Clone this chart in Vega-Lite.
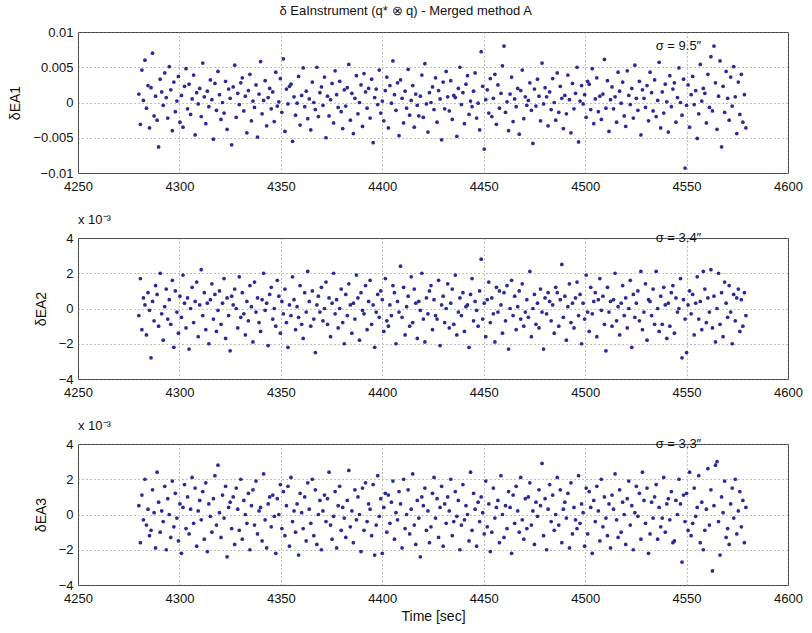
{
"$schema": "https://vega.github.io/schema/vega-lite/v6.json",
"padding": {"left": 8, "top": 4, "right": 6, "bottom": 4},
"background": "white",
"title": {"text": "δ EaInstrument (q* ⊗ q) - Merged method A", "anchor": "middle", "fontSize": 13, "fontWeight": "normal", "font": "Liberation Sans", "color": "#111", "offset": 8},
"bounds": "flush",
"spacing": 65,
"config": {
 "font": "Liberation Sans",
 "view": {"stroke": "#444", "strokeWidth": 1},
 "axis": {"grid": true, "gridDash": [1, 3], "gridColor": "#777", "gridOpacity": 0.9, "domain": false, "ticks": false, "labelFont": "Liberation Sans", "labelFontSize": 13, "labelColor": "#111", "titleFont": "Liberation Sans", "titleFontSize": 14, "titleFontWeight": "normal", "titleColor": "#111", "labelPadding": 5, "labelOverlap": false, "labelFlush": false, "tickCount": 20},
 "axisX": {"labelPadding": 7, "format": "d"}
},
"data": {"values": [
{"t":4280,"a":1.2,"b":-0.4,"c":0.5},{"t":4280.75,"a":-3.1,"b":1.7,"c":-1.6},{"t":4281.5,"a":4.6,"b":-1.2,"c":1.1},{"t":4282.25,"a":0.3,"b":0.6,"c":-0.3},
{"t":4283,"a":6.0,"b":0.2,"c":2.0},{"t":4283.75,"a":-0.8,"b":-1.5,"c":-0.6},{"t":4284.5,"a":2.4,"b":0.9,"c":0.3},{"t":4285.25,"a":-3.6,"b":-0.1,"c":-1.2},
{"t":4286,"a":2.1,"b":-2.8,"c":-0.9},{"t":4286.75,"a":7.0,"b":0.4,"c":1.4},{"t":4287.5,"a":-1.9,"b":-0.7,"c":0.1},{"t":4288.25,"a":0.9,"b":1.3,"c":-1.9},
{"t":4289,"a":-2.5,"b":0.8,"c":2.4},{"t":4289.75,"a":-6.3,"b":-1.0,"c":0.7},{"t":4290.5,"a":3.3,"b":2.0,"c":-1.0},{"t":4291.25,"a":1.5,"b":-0.3,"c":0.2},
{"t":4292,"a":-0.4,"b":-1.8,"c":-0.4},{"t":4292.75,"a":4.2,"b":0.1,"c":1.6},{"t":4293.5,"a":0.7,"b":1.1,"c":-2.0},{"t":4294.25,"a":-2.2,"b":-0.6,"c":0.9},
{"t":4295,"a":5.1,"b":0.5,"c":0.0},{"t":4295.75,"a":1.8,"b":-0.9,"c":-1.3},{"t":4296.5,"a":-4.0,"b":1.6,"c":1.9},{"t":4297.25,"a":2.9,"b":-2.2,"c":-0.7},
{"t":4298,"a":-1.3,"b":1.0,"c":1.2},{"t":4298.75,"a":0.2,"b":-0.2,"c":-0.2},{"t":4299.5,"a":3.7,"b":-1.4,"c":-1.5},{"t":4300.25,"a":-2.8,"b":0.7,"c":0.6},
{"t":4301,"a":1.0,"b":-0.5,"c":-2.2},{"t":4301.75,"a":-3.5,"b":1.9,"c":0.4},{"t":4302.5,"a":2.3,"b":0.3,"c":1.7},{"t":4303.25,"a":4.8,"b":-1.1,"c":-0.8},
{"t":4304,"a":-0.9,"b":0.6,"c":1.0},{"t":4304.75,"a":2.6,"b":-2.3,"c":-1.1},{"t":4305.5,"a":-1.7,"b":0.0,"c":0.3},{"t":4306.25,"a":0.5,"b":1.2,"c":2.1},
{"t":4307,"a":3.9,"b":-0.8,"c":-0.5},{"t":4307.75,"a":-4.6,"b":0.4,"c":1.5},{"t":4308.5,"a":1.4,"b":1.5,"c":-1.8},{"t":4309.25,"a":-0.2,"b":-1.6,"c":0.2},
{"t":4310,"a":2.0,"b":0.2,"c":0.8},{"t":4310.75,"a":-2.0,"b":2.2,"c":-0.3},{"t":4311.5,"a":5.6,"b":-0.4,"c":1.3},{"t":4312.25,"a":0.8,"b":0.9,"c":-1.4},
{"t":4313,"a":-3.0,"b":-1.2,"c":1.8},{"t":4313.75,"a":1.6,"b":0.3,"c":-2.1},{"t":4314.5,"a":-0.6,"b":-2.0,"c":0.6},{"t":4315.25,"a":3.2,"b":0.5,"c":-0.1},
{"t":4316,"a":0.4,"b":1.4,"c":-1.0},{"t":4316.75,"a":-5.2,"b":-0.6,"c":0.9},{"t":4317.5,"a":2.7,"b":0.8,"c":2.2},{"t":4318.25,"a":-1.1,"b":-1.3,"c":-0.6},
{"t":4319,"a":4.4,"b":-0.1,"c":2.8},{"t":4319.75,"a":1.1,"b":1.0,"c":0.1},{"t":4320.5,"a":-2.4,"b":-0.9,"c":-1.3},{"t":4321.25,"a":0.0,"b":0.3,"c":1.1},
{"t":4322,"a":-1.5,"b":1.7,"c":-0.2},{"t":4322.75,"a":3.0,"b":-1.7,"c":1.6},{"t":4323.5,"a":-3.8,"b":0.6,"c":-2.4},{"t":4324.25,"a":1.9,"b":-0.4,"c":0.4},
{"t":4325,"a":0.6,"b":-2.4,"c":0.7},{"t":4325.75,"a":-6.0,"b":0.7,"c":-0.8},{"t":4326.5,"a":2.2,"b":0.2,"c":1.0},{"t":4327.25,"a":5.3,"b":1.1,"c":-1.7},
{"t":4328,"a":-2.1,"b":0.0,"c":1.5},{"t":4328.75,"a":1.3,"b":-1.1,"c":0.3},{"t":4329.5,"a":-0.3,"b":1.8,"c":-0.9},{"t":4330.25,"a":2.8,"b":-0.5,"c":2.0},
{"t":4331,"a":3.5,"b":0.9,"c":-1.4},{"t":4331.75,"a":-1.2,"b":-0.3,"c":0.8},{"t":4332.5,"a":0.9,"b":-1.5,"c":0.0},{"t":4333.25,"a":-4.3,"b":0.4,"c":-0.5},
{"t":4334,"a":1.7,"b":-0.7,"c":1.2},{"t":4334.75,"a":4.0,"b":1.3,"c":-2.0},{"t":4335.5,"a":-2.6,"b":0.1,"c":0.5},{"t":4336.25,"a":0.2,"b":-1.9,"c":1.4},
{"t":4337,"a":-0.7,"b":1.5,"c":-0.6},{"t":4337.75,"a":2.5,"b":-0.2,"c":1.9},{"t":4338.5,"a":-4.9,"b":0.6,"c":-1.1},{"t":4339.25,"a":1.2,"b":-0.8,"c":0.2},
{"t":4340,"a":5.8,"b":-1.3,"c":0.4},{"t":4340.75,"a":-1.6,"b":0.5,"c":-1.5},{"t":4341.5,"a":0.3,"b":2.0,"c":2.3},{"t":4342.25,"a":3.1,"b":-0.1,"c":-0.3},
{"t":4343,"a":-3.3,"b":0.3,"c":-1.9},{"t":4343.75,"a":0.7,"b":-2.1,"c":0.6},{"t":4344.5,"a":2.0,"b":0.8,"c":1.0},{"t":4345.25,"a":-0.9,"b":1.2,"c":-0.7},
{"t":4346,"a":1.5,"b":-0.6,"c":1.1},{"t":4346.75,"a":-2.7,"b":0.0,"c":-0.1},{"t":4347.5,"a":4.3,"b":-1.0,"c":-2.2},{"t":4348.25,"a":-0.5,"b":1.6,"c":0.9},
{"t":4349,"a":0.1,"b":0.7,"c":0.0},{"t":4349.75,"a":3.4,"b":-1.4,"c":1.7},{"t":4350.5,"a":-1.4,"b":0.4,"c":-0.8},{"t":4351.25,"a":6.2,"b":-0.3,"c":1.3},
{"t":4352,"a":-4.1,"b":1.1,"c":-1.2},{"t":4352.75,"a":1.9,"b":-0.8,"c":0.5},{"t":4353.5,"a":-0.2,"b":-2.2,"c":1.6},{"t":4354.25,"a":2.3,"b":0.2,"c":-1.8},
{"t":4355,"a":2.6,"b":-0.4,"c":2.1},{"t":4355.75,"a":-5.5,"b":1.8,"c":-0.4},{"t":4356.5,"a":0.8,"b":0.5,"c":0.2},{"t":4357.25,"a":-1.8,"b":-1.2,"c":-1.0},
{"t":4358,"a":-0.1,"b":0.1,"c":0.6},{"t":4358.75,"a":3.7,"b":-0.5,"c":-2.3},{"t":4359.5,"a":-3.2,"b":1.3,"c":1.2},{"t":4360.25,"a":1.0,"b":-0.9,"c":0.1},
{"t":4361,"a":4.9,"b":-1.7,"c":-0.8},{"t":4361.75,"a":-0.6,"b":0.9,"c":1.0},{"t":4362.5,"a":1.6,"b":-0.2,"c":-1.5},{"t":4363.25,"a":-2.3,"b":2.1,"c":1.8},
{"t":4364,"a":0.5,"b":0.4,"c":0.3},{"t":4364.75,"a":-3.9,"b":-1.0,"c":-0.5},{"t":4365.5,"a":2.9,"b":1.0,"c":2.0},{"t":4366.25,"a":0.0,"b":-0.6,"c":-1.2},
{"t":4367,"a":-1.0,"b":-2.5,"c":1.4},{"t":4367.75,"a":5.0,"b":0.2,"c":-1.7},{"t":4368.5,"a":-2.0,"b":0.7,"c":0.0},{"t":4369.25,"a":1.4,"b":-0.2,"c":0.8},
{"t":4370,"a":2.2,"b":1.2,"c":-2.0},{"t":4370.75,"a":-0.4,"b":-0.7,"c":0.2},{"t":4371.5,"a":3.6,"b":0.0,"c":1.1},{"t":4372.25,"a":-5.0,"b":1.5,"c":-0.4},
{"t":4373,"a":0.9,"b":-0.9,"c":0.9},{"t":4373.75,"a":-1.9,"b":0.6,"c":2.4},{"t":4374.5,"a":0.4,"b":-1.6,"c":-0.6},{"t":4375.25,"a":2.7,"b":0.3,"c":-1.4},
{"t":4376,"a":-2.9,"b":2.0,"c":-0.1},{"t":4376.75,"a":4.5,"b":-0.3,"c":1.3},{"t":4377.5,"a":1.1,"b":0.5,"c":-1.9},{"t":4378.25,"a":-0.7,"b":-1.1,"c":0.5},
{"t":4379,"a":3.0,"b":0.0,"c":1.6},{"t":4379.75,"a":-1.3,"b":1.1,"c":-0.9},{"t":4380.5,"a":-3.7,"b":-0.8,"c":0.4},{"t":4381.25,"a":1.8,"b":-2.0,"c":-0.2},
{"t":4382,"a":-0.5,"b":0.8,"c":-1.3},{"t":4382.75,"a":2.1,"b":-0.4,"c":0.8},{"t":4383.5,"a":5.4,"b":1.4,"c":2.5},{"t":4384.25,"a":-2.5,"b":0.2,"c":-0.7},
{"t":4385,"a":1.3,"b":-1.4,"c":0.2},{"t":4385.75,"a":-4.4,"b":0.3,"c":-1.6},{"t":4386.5,"a":0.6,"b":-0.6,"c":1.4},{"t":4387.25,"a":3.8,"b":1.9,"c":-0.3},
{"t":4388,"a":-1.6,"b":0.6,"c":1.0},{"t":4388.75,"a":0.0,"b":-1.8,"c":0.0},{"t":4389.5,"a":2.5,"b":0.9,"c":-2.1},{"t":4390.25,"a":-3.4,"b":-0.1,"c":1.5},
{"t":4391,"a":4.1,"b":-0.3,"c":-0.9},{"t":4391.75,"a":1.5,"b":1.3,"c":1.8},{"t":4392.5,"a":-0.8,"b":-1.2,"c":-0.4},{"t":4393.25,"a":2.0,"b":0.4,"c":0.6},
{"t":4394,"a":-2.2,"b":1.6,"c":0.3},{"t":4394.75,"a":3.3,"b":-0.9,"c":-1.2},{"t":4395.5,"a":-5.7,"b":0.2,"c":1.7},{"t":4396.25,"a":0.7,"b":-2.2,"c":-2.3},
{"t":4397,"a":1.9,"b":-0.2,"c":-0.6},{"t":4397.75,"a":-0.3,"b":0.8,"c":2.2},{"t":4398.5,"a":4.6,"b":-0.5,"c":-0.1},{"t":4399.25,"a":-1.5,"b":1.0,"c":0.9},
{"t":4400,"a":0.2,"b":0.5,"c":-2.2},{"t":4400.75,"a":-2.6,"b":-1.3,"c":0.4},{"t":4401.5,"a":1.7,"b":1.7,"c":1.2},{"t":4402.25,"a":3.6,"b":-0.7,"c":-1.0},
{"t":4403,"a":-3.6,"b":-1.0,"c":1.1},{"t":4403.75,"a":2.4,"b":0.2,"c":-0.5},{"t":4404.5,"a":-0.1,"b":-0.4,"c":0.7},{"t":4405.25,"a":5.9,"b":1.3,"c":1.9},
{"t":4406,"a":1.1,"b":0.9,"c":-1.4},{"t":4406.75,"a":-1.1,"b":-2.0,"c":0.1},{"t":4407.5,"a":2.8,"b":0.4,"c":-0.3},{"t":4408.25,"a":-4.7,"b":-0.2,"c":1.3},
{"t":4409,"a":3.2,"b":2.4,"c":0.6},{"t":4409.75,"a":0.6,"b":-0.5,"c":-1.9},{"t":4410.5,"a":-2.9,"b":1.2,"c":2.0},{"t":4411.25,"a":1.6,"b":-1.5,"c":-0.8},
{"t":4412,"a":-0.8,"b":0.1,"c":0.0},{"t":4412.75,"a":4.7,"b":0.7,"c":1.4},{"t":4413.5,"a":-1.8,"b":-1.0,"c":-1.1},{"t":4414.25,"a":0.3,"b":1.8,"c":0.3},
{"t":4415,"a":2.4,"b":-0.8,"c":2.3},{"t":4415.75,"a":-3.5,"b":1.1,"c":-0.6},{"t":4416.5,"a":1.2,"b":0.3,"c":-1.7},{"t":4417.25,"a":-0.4,"b":-1.7,"c":0.8},
{"t":4418,"a":-1.9,"b":0.4,"c":-0.2},{"t":4418.75,"a":0.9,"b":-0.1,"c":-2.4},{"t":4419.5,"a":3.9,"b":2.0,"c":1.0},{"t":4420.25,"a":-2.1,"b":-0.6,"c":0.5},
{"t":4421,"a":5.5,"b":-1.9,"c":1.5},{"t":4421.75,"a":-0.2,"b":0.6,"c":-0.9},{"t":4422.5,"a":-4.2,"b":-0.3,"c":0.2},{"t":4423.25,"a":1.4,"b":1.0,"c":-1.6},
{"t":4424,"a":0.0,"b":1.3,"c":-0.7},{"t":4424.75,"a":2.2,"b":-1.2,"c":1.2},{"t":4425.5,"a":-1.0,"b":0.5,"c":2.1},{"t":4426.25,"a":3.5,"b":-0.4,"c":-0.2},
{"t":4427,"a":-2.8,"b":-0.6,"c":0.9},{"t":4427.75,"a":1.7,"b":1.6,"c":-1.3},{"t":4428.5,"a":0.5,"b":-2.1,"c":0.4},{"t":4429.25,"a":-5.3,"b":0.2,"c":1.6},
{"t":4430,"a":2.9,"b":0.7,"c":-1.8},{"t":4430.75,"a":-0.9,"b":-0.8,"c":0.6},{"t":4431.5,"a":4.4,"b":0.0,"c":-0.5},{"t":4432.25,"a":0.8,"b":1.4,"c":1.0},
{"t":4433,"a":-1.2,"b":-1.1,"c":0.2},{"t":4433.75,"a":3.1,"b":0.3,"c":2.0},{"t":4434.5,"a":-2.4,"b":1.1,"c":-1.2},{"t":4435.25,"a":1.0,"b":-0.9,"c":-0.4},
{"t":4436,"a":0.7,"b":1.9,"c":1.3},{"t":4436.75,"a":-4.8,"b":-1.5,"c":-0.1},{"t":4437.5,"a":2.0,"b":-0.2,"c":0.8},{"t":4438.25,"a":5.0,"b":0.6,"c":-2.0},
{"t":4439,"a":-0.3,"b":-0.4,"c":-0.6},{"t":4439.75,"a":1.4,"b":0.9,"c":1.7},{"t":4440.5,"a":-3.0,"b":-1.3,"c":-0.3},{"t":4441.25,"a":2.6,"b":0.1,"c":0.5},
{"t":4442,"a":3.8,"b":0.2,"c":0.0},{"t":4442.75,"a":-1.7,"b":-2.2,"c":-1.5},{"t":4443.5,"a":0.2,"b":0.8,"c":2.4},{"t":4444.25,"a":-0.6,"b":1.7,"c":-0.9},
{"t":4445,"a":1.6,"b":-0.7,"c":1.2},{"t":4445.75,"a":4.2,"b":0.4,"c":0.3},{"t":4446.5,"a":-2.2,"b":-0.1,"c":-1.8},{"t":4447.25,"a":-0.1,"b":-1.0,"c":0.7},
{"t":4448,"a":-3.9,"b":1.0,"c":-0.4},{"t":4448.75,"a":7.2,"b":2.8,"c":1.0},{"t":4449.5,"a":2.3,"b":-0.6,"c":0.1},{"t":4450.25,"a":-6.6,"b":0.3,"c":-1.1},
{"t":4451,"a":0.4,"b":-1.6,"c":1.9},{"t":4451.75,"a":1.8,"b":0.5,"c":-0.7},{"t":4452.5,"a":-1.5,"b":1.5,"c":0.6},{"t":4453.25,"a":3.4,"b":-0.8,"c":-2.1},
{"t":4454,"a":-2.0,"b":0.6,"c":-1.0},{"t":4454.75,"a":0.6,"b":-0.3,"c":1.5},{"t":4455.5,"a":4.0,"b":-1.9,"c":-0.2},{"t":4456.25,"a":-3.1,"b":1.2,"c":0.4},
{"t":4457,"a":2.5,"b":-0.2,"c":0.8},{"t":4457.75,"a":-0.8,"b":1.0,"c":-1.6},{"t":4458.5,"a":1.3,"b":0.2,"c":2.2},{"t":4459.25,"a":5.2,"b":-1.4,"c":0.0},
{"t":4460,"a":8.0,"b":0.9,"c":-1.3},{"t":4460.75,"a":-1.4,"b":-0.7,"c":0.5},{"t":4461.5,"a":0.1,"b":1.3,"c":-0.8},{"t":4462.25,"a":-4.0,"b":-2.3,"c":1.3},
{"t":4463,"a":1.2,"b":0.0,"c":0.4},{"t":4463.75,"a":3.6,"b":1.6,"c":-2.2},{"t":4464.5,"a":-2.7,"b":-0.4,"c":1.1},{"t":4465.25,"a":0.5,"b":0.7,"c":-0.5},
{"t":4466,"a":-0.6,"b":-1.2,"c":1.6},{"t":4466.75,"a":2.0,"b":0.1,"c":0.2},{"t":4467.5,"a":-4.5,"b":1.0,"c":-1.0},{"t":4468.25,"a":1.7,"b":-0.6,"c":2.1},
{"t":4469,"a":4.6,"b":1.4,"c":-0.3},{"t":4469.75,"a":-2.3,"b":-1.0,"c":-1.4},{"t":4470.5,"a":0.8,"b":-0.2,"c":0.9},{"t":4471.25,"a":-0.4,"b":0.5,"c":-0.8},
{"t":4472,"a":0.3,"b":-0.5,"c":1.0},{"t":4472.75,"a":2.8,"b":2.1,"c":1.8},{"t":4473.5,"a":-1.1,"b":-1.6,"c":-0.6},{"t":4474.25,"a":-5.8,"b":0.0,"c":0.2},
{"t":4475,"a":1.9,"b":0.8,"c":-1.7},{"t":4475.75,"a":-0.5,"b":-0.9,"c":0.7},{"t":4476.5,"a":3.3,"b":0.3,"c":-0.1},{"t":4477.25,"a":0.9,"b":-1.1,"c":1.4},
{"t":4478,"a":-2.6,"b":1.1,"c":0.5},{"t":4478.75,"a":5.6,"b":-0.2,"c":2.9},{"t":4479.5,"a":-0.2,"b":-2.3,"c":-1.2},{"t":4480.25,"a":2.1,"b":0.6,"c":0.9},
{"t":4481,"a":0.8,"b":-0.3,"c":-2.0},{"t":4481.75,"a":-3.3,"b":0.9,"c":0.3},{"t":4482.5,"a":1.5,"b":0.4,"c":1.7},{"t":4483.25,"a":-1.0,"b":-0.7,"c":-0.4},
{"t":4484,"a":3.4,"b":0.2,"c":1.1},{"t":4484.75,"a":0.0,"b":-1.4,"c":-0.9},{"t":4485.5,"a":-2.5,"b":1.2,"c":0.0},{"t":4486.25,"a":4.2,"b":0.9,"c":2.1},
{"t":4487,"a":-1.4,"b":-1.0,"c":-0.6},{"t":4487.75,"a":2.3,"b":0.5,"c":1.4},{"t":4488.5,"a":0.6,"b":2.5,"c":-1.6},{"t":4489.25,"a":-3.7,"b":-0.5,"c":0.3},
{"t":4490,"a":1.0,"b":0.7,"c":0.7},{"t":4490.75,"a":-1.6,"b":-1.8,"c":-0.2},{"t":4491.5,"a":3.9,"b":0.1,"c":1.2},{"t":4492.25,"a":0.4,"b":1.4,"c":-1.9},
{"t":4493,"a":-4.3,"b":-0.8,"c":1.8},{"t":4493.75,"a":2.7,"b":0.3,"c":-1.1},{"t":4494.5,"a":-0.9,"b":-1.1,"c":0.4},{"t":4495.25,"a":1.3,"b":0.6,"c":-0.3},
{"t":4496,"a":5.0,"b":1.5,"c":-0.8},{"t":4496.75,"a":-5.6,"b":-0.4,"c":2.2},{"t":4497.5,"a":0.2,"b":0.8,"c":-0.5},{"t":4498.25,"a":2.4,"b":-2.0,"c":0.6},
{"t":4499,"a":-0.2,"b":0.3,"c":0.1},{"t":4499.75,"a":1.1,"b":-0.6,"c":-1.8},{"t":4500.5,"a":-2.1,"b":1.9,"c":1.5},{"t":4501.25,"a":3.0,"b":-0.2,"c":-1.1},
{"t":4502,"a":2.6,"b":-1.3,"c":1.3},{"t":4502.75,"a":-1.0,"b":1.2,"c":0.4},{"t":4503.5,"a":4.8,"b":-0.3,"c":-2.2},{"t":4504.25,"a":-3.0,"b":0.4,"c":0.8},
{"t":4505,"a":0.5,"b":0.9,"c":-0.4},{"t":4505.75,"a":3.5,"b":-1.6,"c":1.6},{"t":4506.5,"a":-1.3,"b":0.5,"c":0.2},{"t":4507.25,"a":0.9,"b":1.7,"c":-1.5},
{"t":4508,"a":-2.4,"b":-0.1,"c":2.0},{"t":4508.75,"a":1.2,"b":0.7,"c":-0.7},{"t":4509.5,"a":6.1,"b":-0.9,"c":1.0},{"t":4510.25,"a":-0.8,"b":-2.4,"c":-0.2},
{"t":4511,"a":3.1,"b":1.2,"c":-1.2},{"t":4511.75,"a":-4.1,"b":-0.2,"c":0.6},{"t":4512.5,"a":0.4,"b":0.4,"c":-1.9},{"t":4513.25,"a":2.2,"b":-1.0,"c":1.1},
{"t":4514,"a":-0.9,"b":0.5,"c":0.3},{"t":4514.75,"a":0.8,"b":2.0,"c":2.3},{"t":4515.5,"a":-2.8,"b":-0.7,"c":-0.3},{"t":4516.25,"a":4.3,"b":0.1,"c":-1.3},
{"t":4517,"a":1.6,"b":-1.5,"c":1.4},{"t":4517.75,"a":-0.1,"b":0.3,"c":-1.0},{"t":4518.5,"a":2.9,"b":1.3,"c":0.7},{"t":4519.25,"a":-1.9,"b":-0.4,"c":0.0},
{"t":4520,"a":-3.4,"b":0.6,"c":-1.7},{"t":4520.75,"a":4.5,"b":-1.1,"c":0.9},{"t":4521.5,"a":1.0,"b":0.0,"c":1.9},{"t":4522.25,"a":-0.3,"b":1.6,"c":-0.6},
{"t":4523,"a":2.0,"b":-2.2,"c":0.5},{"t":4523.75,"a":-2.2,"b":0.8,"c":-2.0},{"t":4524.5,"a":5.3,"b":-0.5,"c":0.1},{"t":4525.25,"a":0.6,"b":0.3,"c":1.6},
{"t":4526,"a":-1.1,"b":1.0,"c":-0.1},{"t":4526.75,"a":3.0,"b":-0.7,"c":1.2},{"t":4527.5,"a":-4.6,"b":2.1,"c":-1.4},{"t":4528.25,"a":1.8,"b":-1.2,"c":2.4},
{"t":4529,"a":0.6,"b":-0.2,"c":0.8},{"t":4529.75,"a":-0.7,"b":1.4,"c":-0.5},{"t":4530.5,"a":2.4,"b":-1.8,"c":1.5},{"t":4531.25,"a":-2.6,"b":0.5,"c":-2.2},
{"t":4532,"a":4.3,"b":0.4,"c":-1.1},{"t":4532.75,"a":1.4,"b":-0.4,"c":0.7},{"t":4533.5,"a":-1.2,"b":1.1,"c":-0.2},{"t":4534.25,"a":3.2,"b":-0.9,"c":1.0},
{"t":4535,"a":-2.0,"b":2.1,"c":1.7},{"t":4535.75,"a":0.3,"b":0.0,"c":-1.4},{"t":4536.5,"a":5.7,"b":-1.3,"c":0.4},{"t":4537.25,"a":-3.6,"b":0.7,"c":-0.7},
{"t":4538,"a":1.5,"b":-0.9,"c":-0.2},{"t":4538.75,"a":-1.5,"b":1.2,"c":2.1},{"t":4539.5,"a":2.6,"b":0.2,"c":-1.0},{"t":4540.25,"a":0.1,"b":-1.7,"c":0.6},
{"t":4541,"a":-4.2,"b":0.3,"c":0.9},{"t":4541.75,"a":3.8,"b":-1.0,"c":-0.3},{"t":4542.5,"a":-0.6,"b":0.9,"c":1.3},{"t":4543.25,"a":1.9,"b":1.3,"c":-1.6},
{"t":4544,"a":2.8,"b":-1.4,"c":-1.5},{"t":4544.75,"a":-2.8,"b":0.6,"c":0.8},{"t":4545.5,"a":0.7,"b":-0.2,"c":0.0},{"t":4546.25,"a":4.9,"b":0.0,"c":2.0},
{"t":4547,"a":0.0,"b":1.7,"c":0.6},{"t":4547.75,"a":-1.8,"b":-2.8,"c":-2.7},{"t":4548.5,"a":3.3,"b":0.5,"c":1.1},{"t":4549.25,"a":-9.3,"b":-0.6,"c":-0.4},
{"t":4550,"a":-0.4,"b":-2.5,"c":1.2},{"t":4550.75,"a":2.5,"b":0.2,"c":-0.9},{"t":4551.5,"a":-3.5,"b":1.0,"c":2.4},{"t":4552.25,"a":1.1,"b":-0.3,"c":-1.2},
{"t":4553,"a":3.7,"b":0.8,"c":-0.5},{"t":4553.75,"a":-0.3,"b":-1.5,"c":1.5},{"t":4554.5,"a":1.7,"b":0.3,"c":-0.1},{"t":4555.25,"a":-5.1,"b":1.8,"c":0.4},
{"t":4556,"a":-1.6,"b":-0.6,"c":2.2},{"t":4556.75,"a":5.4,"b":0.4,"c":-1.6},{"t":4557.5,"a":0.2,"b":-1.2,"c":0.7},{"t":4558.25,"a":2.0,"b":2.1,"c":-2.0},
{"t":4559,"a":1.3,"b":1.1,"c":-0.9},{"t":4559.75,"a":-2.9,"b":-0.8,"c":0.3},{"t":4560.5,"a":4.0,"b":0.6,"c":2.6},{"t":4561.25,"a":-0.7,"b":-0.2,"c":-0.6},
{"t":4562,"a":6.5,"b":2.2,"c":1.4},{"t":4562.75,"a":-1.2,"b":-1.1,"c":-3.2},{"t":4563.5,"a":8.0,"b":0.7,"c":0.5},{"t":4564.25,"a":2.8,"b":-1.9,"c":2.8},
{"t":4565,"a":-3.8,"b":0.0,"c":3.0},{"t":4565.75,"a":0.9,"b":2.0,"c":-0.4},{"t":4566.5,"a":5.9,"b":-0.9,"c":-2.3},{"t":4567.25,"a":-6.3,"b":0.9,"c":1.0},
{"t":4568,"a":2.3,"b":-1.6,"c":0.1},{"t":4568.75,"a":-1.4,"b":1.5,"c":1.9},{"t":4569.5,"a":4.4,"b":0.3,"c":-1.3},{"t":4570.25,"a":0.6,"b":-0.5,"c":-0.8},
{"t":4571,"a":-2.5,"b":1.3,"c":-1.7},{"t":4571.75,"a":3.6,"b":-0.2,"c":0.6},{"t":4572.5,"a":-0.5,"b":-2.0,"c":1.5},{"t":4573.25,"a":5.1,"b":0.8,"c":-0.2},
{"t":4574,"a":0.8,"b":-0.7,"c":2.0},{"t":4574.75,"a":-4.4,"b":0.6,"c":-1.1},{"t":4575.5,"a":2.9,"b":1.1,"c":0.2},{"t":4576.25,"a":-1.7,"b":-1.3,"c":1.3},
{"t":4577,"a":4.0,"b":0.5,"c":-0.7},{"t":4577.75,"a":-2.8,"b":-1.0,"c":0.8},{"t":4578.5,"a":1.1,"b":0.9,"c":-1.6},{"t":4579.25,"a":-3.6,"b":-0.4,"c":0.4}
]},
"vconcat": [
{"width": 710, "height": 141,
 "layer": [
  {"mark": {"type": "circle", "size": 14, "color": "#2b2b96", "opacity": 1},
   "encoding": {
    "x": {"field": "t", "type": "quantitative", "scale": {"domain": [4250, 4600], "nice": false}, "axis": {"title": null, "values": [4250, 4300, 4350, 4400, 4450, 4500, 4550, 4600]}},
    "y": {"field": "a", "type": "quantitative", "scale": {"domain": [-10, 10], "nice": false}, "axis": {"title": "δEA1", "titlePadding": 10, "values": [-10, -5, 0, 5, 10], "labelExpr": "datum.value == 0 ? '0' : format(datum.value / 1000, '')"}}
   }},
  {"data": {"values": [{"t": 4546, "a": 8.0, "label": "σ = 9.5″"}]},
   "mark": {"type": "text", "fontSize": 13, "font": "Liberation Sans", "color": "#111"},
   "encoding": {"x": {"field": "t", "type": "quantitative"}, "y": {"field": "a", "type": "quantitative"}, "text": {"field": "label"}}}
 ]},
{"width": 710, "height": 141,
 "title": {"text": "x 10⁻³", "anchor": "start", "fontSize": 13, "fontWeight": "normal", "font": "Liberation Sans", "color": "#111", "offset": 5, "frame": "group"},
 "layer": [
  {"mark": {"type": "circle", "size": 14, "color": "#2b2b96", "opacity": 1},
   "encoding": {
    "x": {"field": "t", "type": "quantitative", "scale": {"domain": [4250, 4600], "nice": false}, "axis": {"title": null, "values": [4250, 4300, 4350, 4400, 4450, 4500, 4550, 4600]}},
    "y": {"field": "b", "type": "quantitative", "scale": {"domain": [-4, 4], "nice": false}, "axis": {"title": "δEA2", "titlePadding": 10, "format": "d", "values": [-4, -2, 0, 2, 4]}}
   }},
  {"data": {"values": [{"t": 4546, "b": 4.0, "label": "σ = 3.4″"}]},
   "mark": {"type": "text", "fontSize": 13, "font": "Liberation Sans", "color": "#111"},
   "encoding": {"x": {"field": "t", "type": "quantitative"}, "y": {"field": "b", "type": "quantitative"}, "text": {"field": "label"}}}
 ]},
{"width": 710, "height": 141,
 "title": {"text": "x 10⁻³", "anchor": "start", "fontSize": 13, "fontWeight": "normal", "font": "Liberation Sans", "color": "#111", "offset": 5, "frame": "group"},
 "layer": [
  {"mark": {"type": "circle", "size": 14, "color": "#2b2b96", "opacity": 1},
   "encoding": {
    "x": {"field": "t", "type": "quantitative", "scale": {"domain": [4250, 4600], "nice": false}, "axis": {"title": "Time [sec]", "titlePadding": 4, "values": [4250, 4300, 4350, 4400, 4450, 4500, 4550, 4600]}},
    "y": {"field": "c", "type": "quantitative", "scale": {"domain": [-4, 4], "nice": false}, "axis": {"title": "δEA3", "titlePadding": 10, "format": "d", "values": [-4, -2, 0, 2, 4]}}
   }},
  {"data": {"values": [{"t": 4546, "c": 4.0, "label": "σ = 3.3″"}]},
   "mark": {"type": "text", "fontSize": 13, "font": "Liberation Sans", "color": "#111"},
   "encoding": {"x": {"field": "t", "type": "quantitative"}, "y": {"field": "c", "type": "quantitative"}, "text": {"field": "label"}}}
 ]}
]
}
